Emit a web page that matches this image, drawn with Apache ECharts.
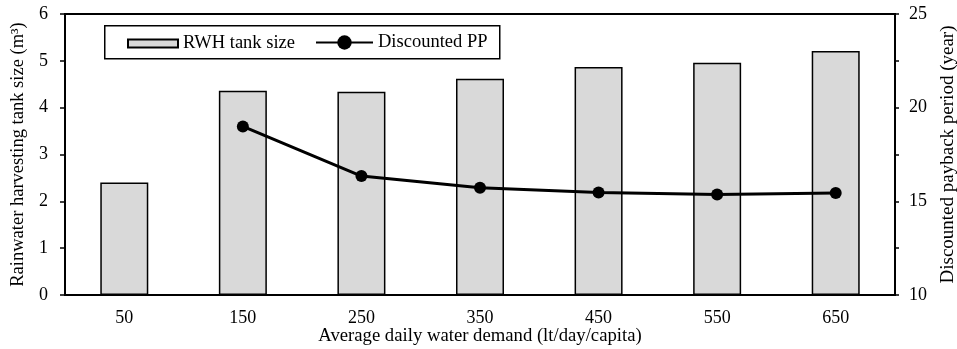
<!DOCTYPE html>
<html>
<head>
<meta charset="utf-8">
<script src="https://cdn.jsdelivr.net/npm/echarts@6/dist/echarts.min.js"></script>
<style>
html,body{margin:0;padding:0;background:#fff;}
#c{width:957px;height:349px;}
</style>
</head>
<body>
<div id="c"></div>
<script>
const categories = ['50', '150', '250', '350', '450', '550', '650'];
const tankSize = [2.40, 4.36, 4.34, 4.62, 4.87, 4.96, 5.21];
const discountedPP = [null, 19.0, 16.35, 15.73, 15.47, 15.36, 15.45];
const leftTicks = [0, 6, 1];
const rightTicks = [10, 25, 2.5];

const FONT = '"Liberation Serif", "Times New Roman", serif';
const chart = echarts.init(document.getElementById('c'), null, {renderer: 'canvas'});
chart.setOption({
  animation: false,
  backgroundColor: '#fff',
  textStyle: {fontFamily: FONT, color: '#000'},
  grid: {left: 65, right: 62, top: 14, bottom: 54, containLabel: false, outerBoundsMode: 'none',
    show: true, borderColor: '#000', borderWidth: 2, backgroundColor: 'transparent'},
  graphic: [{
    type: 'rect', z: 5, left: 104, top: 25,
    shape: {width: 395, height: 33},
    style: {fill: '#fff', stroke: '#000', lineWidth: 1.5}
  }],
  legend: [{
    z: 10, left: 127, top: 34, padding: 0,
    itemWidth: 50, itemHeight: 8, itemGap: 6, icon: 'rect',
    data: ['RWH tank size'],
    textStyle: {fontFamily: FONT, fontSize: 18.5, color: '#000'}
  }, {
    z: 10, left: 315, top: 33, padding: 0,
    itemWidth: 57, itemHeight: 18,
    data: ['Discounted PP'],
    textStyle: {fontFamily: FONT, fontSize: 18.5, color: '#000'}
  }],
  xAxis: {
    type: 'category', data: categories, boundaryGap: true,
    name: 'Average daily water demand (lt/day/capita)', nameLocation: 'middle', nameGap: 32,
    nameMoveOverlap: false,
    nameTextStyle: {fontFamily: FONT, fontSize: 18.7, color: '#000'},
    axisLine: {lineStyle: {color: '#000', width: 2}},
    axisTick: {alignWithLabel: true, length: 5, lineStyle: {color: '#000', width: 1.5}},
    axisLabel: {fontFamily: FONT, fontSize: 18, color: '#000', margin: 14}
  },
  yAxis: [{
    type: 'value', min: leftTicks[0], max: leftTicks[1], interval: leftTicks[2],
    name: 'Rainwater harvesting tank size (m³)', nameLocation: 'middle', nameGap: 37,
    nameMoveOverlap: false,
    nameTextStyle: {fontFamily: FONT, fontSize: 18.5, color: '#000'},
    axisLine: {show: true, lineStyle: {color: '#000', width: 2}},
    axisTick: {show: true, length: 5, lineStyle: {color: '#000', width: 1.5}},
    axisLabel: {fontFamily: FONT, fontSize: 18, color: '#000', margin: 17},
    splitLine: {show: false}
  }, {
    type: 'value', position: 'right', min: rightTicks[0], max: rightTicks[1], interval: rightTicks[2],
    name: 'Discounted payback period (year)', nameLocation: 'middle', nameGap: 44,
    nameRotate: 90, nameMoveOverlap: false,
    nameTextStyle: {fontFamily: FONT, fontSize: 19, color: '#000'},
    axisLine: {show: true, lineStyle: {color: '#000', width: 2}},
    axisTick: {show: true, length: 4, lineStyle: {color: '#000', width: 1.5}},
    axisLabel: {fontFamily: FONT, fontSize: 18, color: '#000', margin: 14,
      formatter: v => (v % 5 === 0 ? String(v) : '')},
    splitLine: {show: false}
  }],
  series: [{
    name: 'RWH tank size', type: 'bar', yAxisIndex: 0, data: tankSize,
    barWidth: 48,
    itemStyle: {color: '#d9d9d9', borderColor: '#000', borderWidth: 1.5}
  }, {
    name: 'Discounted PP', type: 'line', yAxisIndex: 1, data: discountedPP,
    symbol: 'circle', symbolSize: 12, connectNulls: false,
    lineStyle: {color: '#000', width: 3},
    itemStyle: {color: '#000'}
  }]
});
</script>
</body>
</html>
